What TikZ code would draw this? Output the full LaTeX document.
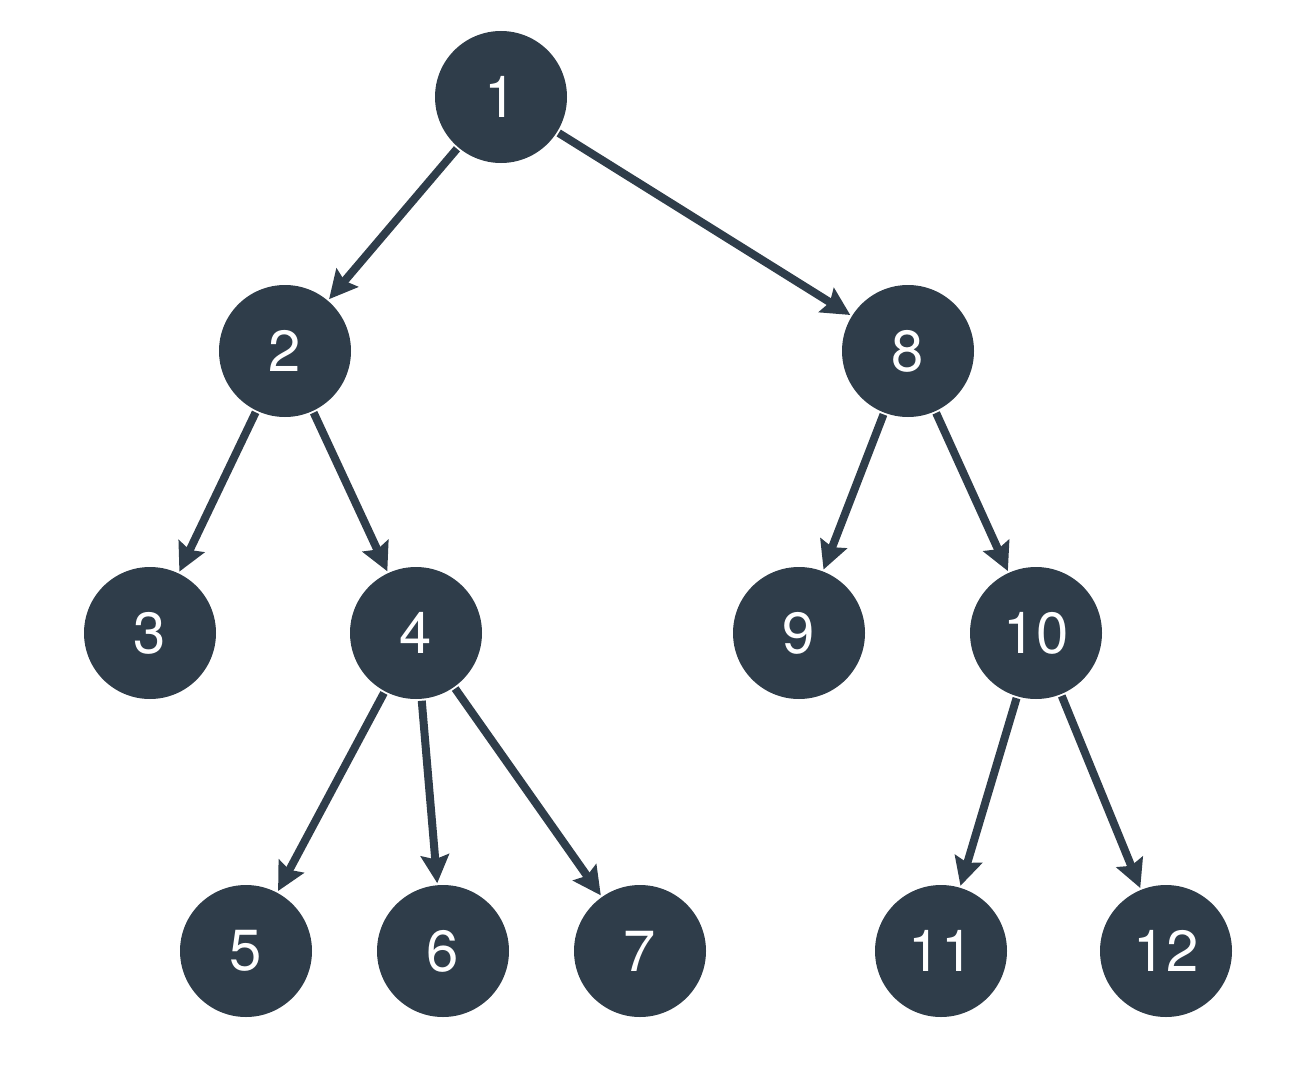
\documentclass[tikz,border=0pt]{standalone}
\usepackage{fontspec}
\setmainfont{TeX Gyre Heros}
\usetikzlibrary{arrows.meta}
\definecolor{nodecol}{HTML}{2F3D4A}
\begin{document}
\begin{tikzpicture}[
  tnode/.style={circle,fill=nodecol,draw=none,minimum size=132pt,inner sep=0pt,outer sep=2pt,text=white,font=\fontsize{58}{58}\selectfont},
  conn/.style={draw=nodecol,line width=8pt,-{Stealth[length=28pt,width=28pt,inset=4pt]}}]
\useasboundingbox (0pt,0pt) rectangle (1310pt,-1065pt);
\node[tnode] (n1) at (501pt,-97pt) {1};
\node[tnode] (n2) at (285pt,-351pt) {2};
\node[tnode] (n8) at (908pt,-351pt) {8};
\node[tnode] (n3) at (150pt,-633pt) {3};
\node[tnode] (n4) at (416pt,-633pt) {4};
\node[tnode] (n9) at (799pt,-633pt) {9};
\node[tnode] (n10) at (1036pt,-633pt) {10};
\node[tnode] (n5) at (246pt,-951pt) {5};
\node[tnode] (n6) at (443pt,-951pt) {6};
\node[tnode] (n7) at (640pt,-951pt) {7};
\node[tnode] (n11) at (941pt,-951pt) {11};
\node[tnode] (n12) at (1166pt,-951pt) {12};
\draw[conn] (n1) -- (n2);
\draw[conn] (n1) -- (n8);
\draw[conn] (n2) -- (n3);
\draw[conn] (n2) -- (n4);
\draw[conn] (n8) -- (n9);
\draw[conn] (n8) -- (n10);
\draw[conn] (n4) -- (n5);
\draw[conn] (n4) -- (n6);
\draw[conn] (n4) -- (n7);
\draw[conn] (n10) -- (n11);
\draw[conn] (n10) -- (n12);
\end{tikzpicture}
\end{document}
